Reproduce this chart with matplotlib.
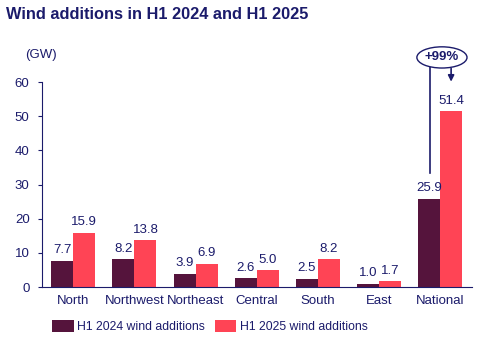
import numpy as np
import matplotlib.pyplot as plt
from matplotlib.patches import Ellipse

plt.rcParams['font.family'] = ['Liberation Sans', 'DejaVu Sans']

regions = ['North', 'Northwest', 'Northeast', 'Central', 'South', 'East', 'National']
h1_2024 = [7.7, 8.2, 3.9, 2.6, 2.5, 1.0, 25.9]
h1_2025 = [15.9, 13.8, 6.9, 5.0, 8.2, 1.7, 51.4]
growth_label = '+99%'

navy = '#1B1B6B'
dark = '#55143C'
red = '#FF4455'

fig = plt.figure(figsize=(4.84, 3.39), dpi=100)
ax = fig.add_axes([0.087, 0.153, 0.888, 0.605])

x = np.arange(len(regions))
w = 0.36
ax.bar(x - w / 2, h1_2024, w, color=dark, label='H1 2024 wind additions')
ax.bar(x + w / 2, h1_2025, w, color=red, label='H1 2025 wind additions')

for xi, v in zip(x, h1_2024):
    ax.text(xi - w / 2, v + 1.3, f'{v:.1f}', ha='center', va='bottom', fontsize=9.5, color=navy)
for xi, v in zip(x, h1_2025):
    ax.text(xi + w / 2, v + 1.3, f'{v:.1f}', ha='center', va='bottom', fontsize=9.5, color=navy)

ax.set_xlim(-0.51, 6.52)
ax.set_ylim(0, 60)
ax.set_yticks(range(0, 61, 10))
ax.set_xticks(x)
ax.set_xticklabels(regions)
ax.tick_params(axis='both', colors=navy, labelsize=9.5, width=0.8)
ax.tick_params(axis='x', length=0, pad=6)
ax.tick_params(axis='y', direction='out', length=3, pad=6)
for s in ['top', 'right']:
    ax.spines[s].set_visible(False)
ax.spines['left'].set_color(navy)
ax.spines['bottom'].set_color(navy)

# growth annotation on the National bars
ax.annotate('', xy=(6 + w / 2, 59.3), xytext=(6 + w / 2, 64.8),
            arrowprops=dict(arrowstyle='-|>', color=navy, lw=1.2, mutation_scale=9),
            annotation_clip=False)
ax.plot([6 - w / 2 + 0.02, 6 - w / 2 + 0.02], [33.5, 64.6], color=navy, lw=1.2, clip_on=False)
ell = Ellipse((6.03, 67.2), 0.82, 6.2, facecolor='white', edgecolor=navy, lw=1.0, clip_on=False, zorder=5)
ax.add_patch(ell)
ax.text(6.03, 67.2, growth_label, ha='center', va='center', fontsize=9.5, fontweight='bold', color=navy, zorder=6)

fig.text(0.052, 0.83, '(GW)', fontsize=9.5, color=navy)
fig.text(0.012, 0.958, 'Wind additions in H1 2024 and H1 2025', fontsize=11.8, fontweight='bold',
         color=navy, va='center')

leg = fig.legend(loc='lower left', bbox_to_anchor=(0.085, -0.015), ncol=2, frameon=False, fontsize=8.8,
                 handlelength=1.75, handleheight=1.25, columnspacing=0.8, handletextpad=0.3)
for t in leg.get_texts():
    t.set_color(navy)

fig.savefig('out.png', dpi=100)
